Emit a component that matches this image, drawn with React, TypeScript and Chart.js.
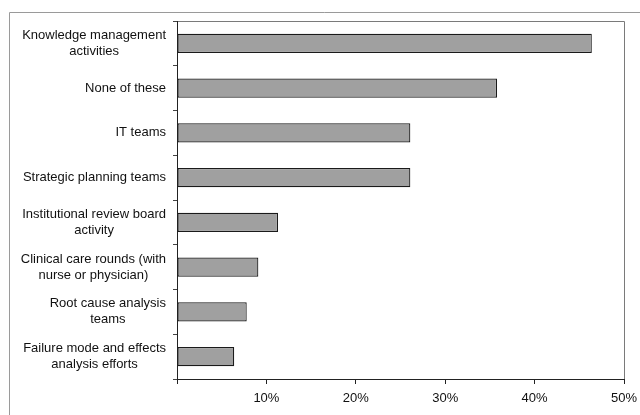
import React, { useEffect, useRef } from "react";
import { Chart, registerables } from "chart.js";

Chart.register(...registerables);

const categoryLines: string[][] = [
  ["Knowledge management", "activities"],
  ["None of these"],
  ["IT teams"],
  ["Strategic planning teams"],
  ["Institutional review board", "activity"],
  ["Clinical care rounds (with", "nurse or physician)"],
  ["Root cause analysis", "teams"],
  ["Failure mode and effects", "analysis efforts"],
];
const values: number[] = [46.4, 35.8, 26.1, 26.1, 11.3, 9.1, 7.8, 6.4];
const xTicks: number[] = [0, 10, 20, 30, 40, 50];

const FONT = '13px "Liberation Sans", Arial, sans-serif';

const framePlugin = {
  id: "framePlugin",
  beforeDraw(chart: any) {
    const ctx = chart.ctx;
    const a = chart.chartArea;
    ctx.save();
    ctx.strokeStyle = "#9a9a9a";
    ctx.lineWidth = 1;
    ctx.beginPath();
    ctx.moveTo(9.5, 415);
    ctx.lineTo(9.5, 12.5);
    ctx.lineTo(640, 12.5);
    ctx.stroke();
    ctx.strokeStyle = "#7a7a7a";
    ctx.beginPath();
    ctx.moveTo(Math.round(a.left) + 0.5, Math.round(a.top) + 0.5);
    ctx.lineTo(Math.round(a.right) + 0.5, Math.round(a.top) + 0.5);
    ctx.lineTo(Math.round(a.right) + 0.5, Math.round(a.bottom) + 0.5);
    ctx.stroke();
    ctx.restore();
  },
  afterDraw(chart: any) {
    const ctx = chart.ctx;
    const yScale = chart.scales.y;
    const a = chart.chartArea;
    const rightEdge = a.left - 11;
    const lineH = 16;
    ctx.save();
    ctx.font = FONT;
    ctx.fillStyle = "#111";
    ctx.textAlign = "center";
    ctx.textBaseline = "middle";
    categoryLines.forEach((lines, i) => {
      const cy = yScale.getPixelForValue(i);
      const w = Math.max(...lines.map((l) => ctx.measureText(l).width));
      const cx = rightEdge - w / 2;
      const startY = cy - ((lines.length - 1) * lineH) / 2;
      lines.forEach((l, j) => ctx.fillText(l, cx, startY + j * lineH));
    });
    ctx.restore();
  },
};

export default function App() {
  const ref = useRef<HTMLCanvasElement>(null);
  useEffect(() => {
    document.body.style.margin = "0";
    const chart = new Chart(ref.current!, {
      type: "bar",
      data: {
        labels: categoryLines.map((l) => l.join(" ")),
        datasets: [
          {
            data: values,
            backgroundColor: "#a0a0a0",
            borderColor: "#1a1a1a",
            borderWidth: 1.2,
            borderSkipped: false,
            barPercentage: 0.43,
            categoryPercentage: 1,
          },
        ],
      },
      options: {
        indexAxis: "y",
        animation: false,
        responsive: false,
        devicePixelRatio: 1,
        layout: { padding: { left: 0, top: 21, right: 16, bottom: 0 } },
        plugins: { legend: { display: false }, tooltip: { enabled: false } },
        scales: {
          x: {
            min: 0,
            max: 50,
            afterBuildTicks: (s: any) => {
              s.ticks = xTicks.map((v) => ({ value: v }));
            },
            afterFit: (s: any) => {
              s.height = 36;
              s.paddingRight = 0;
              s.paddingLeft = 0;
            },
            grid: {
              drawOnChartArea: false,
              tickLength: 5,
              color: "#222",
            },
            border: { color: "#222", width: 1 },
            ticks: {
              padding: 7,
              color: "#111",
              font: { family: '"Liberation Sans", Arial, sans-serif', size: 13 },
              callback: (v: any) => (v === 0 ? "" : v + "%"),
              maxRotation: 0,
            },
          },
          y: {
            afterFit: (s: any) => {
              s.width = 177;
            },
            grid: {
              drawOnChartArea: false,
              tickLength: 4,
              color: "#444",
              offset: true,
            },
            border: { color: "#222", width: 1 },
            ticks: { display: false },
          },
        },
      },
      plugins: [framePlugin],
    });
    return () => chart.destroy();
  }, []);
  return (
    <div style={{ width: 640, height: 415, background: "#fff" }}>
      <canvas ref={ref} width={640} height={415} style={{ display: "block" }} />
    </div>
  );
}
